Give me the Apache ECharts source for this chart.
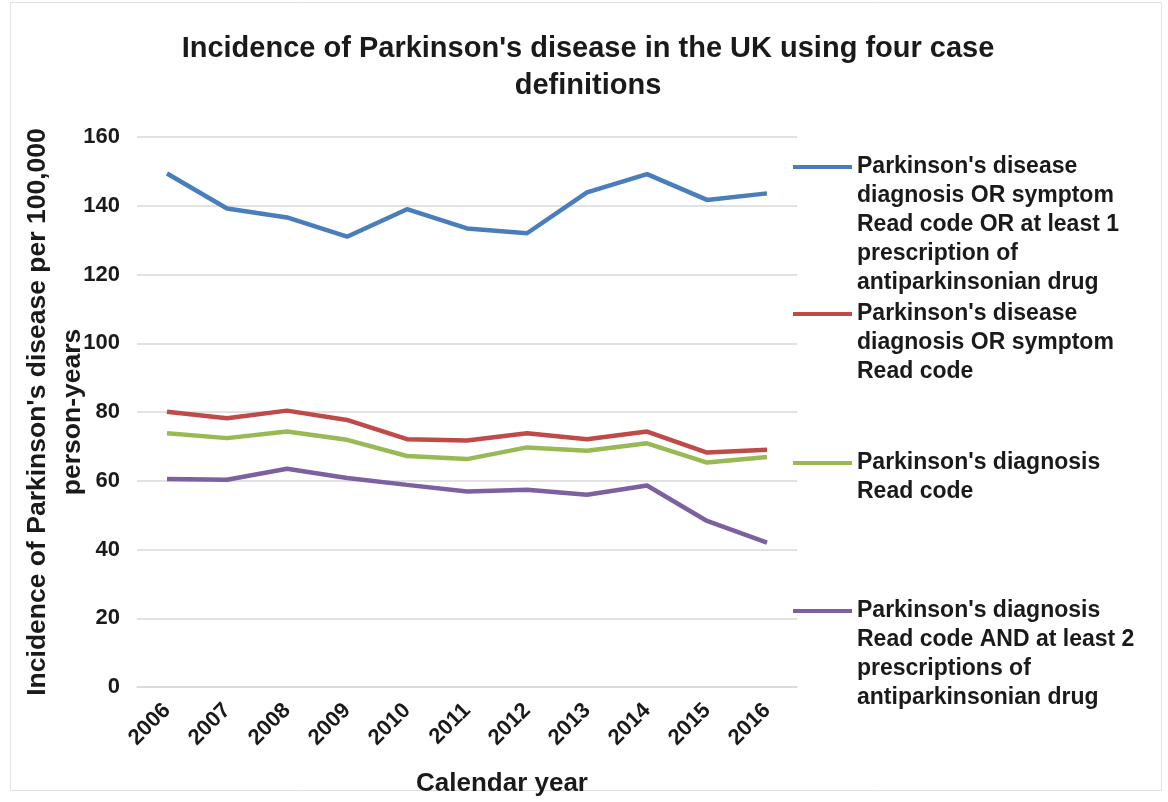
<!DOCTYPE html>
<html>
<head>
<meta charset="utf-8">
<script src="https://cdn.jsdelivr.net/npm/echarts@6/dist/echarts.min.js"></script>
<style>
  html, body { margin: 0; padding: 0; background: #ffffff; }
  #chart { width: 1168px; height: 802px; }
</style>
</head>
<body>
<div id="chart"></div>
<script>
// Calendar years on the x axis
const years = ['2006', '2007', '2008', '2009', '2010', '2011', '2012', '2013', '2014', '2015', '2016'];

// Incidence per 100,000 person-years for each case definition
const diagOrSymptomOrRx = [149.4, 139.2, 136.6, 131.0, 139.0, 133.4, 132.0, 143.9, 149.2, 141.7, 143.6];
const diagOrSymptom     = [80.1, 78.2, 80.4, 77.7, 72.1, 71.7, 73.8, 72.1, 74.3, 68.2, 69.0];
const diagnosisOnly     = [73.8, 72.4, 74.3, 71.9, 67.2, 66.3, 69.7, 68.7, 70.9, 65.3, 66.9];
const diagAnd2Rx        = [60.5, 60.3, 63.5, 60.8, 58.8, 56.9, 57.4, 55.9, 58.6, 48.3, 42.0];

// Series names, as shown in the legend (one entry per line of text)
const seriesNames = [
  ["Parkinson's disease", 'diagnosis OR symptom', 'Read code OR at least 1', 'prescription of', 'antiparkinsonian drug'],
  ["Parkinson's disease", 'diagnosis OR symptom', 'Read code'],
  ["Parkinson's diagnosis", 'Read code'],
  ["Parkinson's diagnosis", 'Read code AND at least 2', 'prescriptions of', 'antiparkinsonian drug']
];
const seriesValues = [diagOrSymptomOrRx, diagOrSymptom, diagnosisOnly, diagAnd2Rx];
const seriesColors = ['#4a7ebb', '#be4b48', '#98b954', '#7d60a0'];

// Y axis ticks
const yMin = 0, yMax = 160, yStep = 20;

const FONT = '"Liberation Sans", Arial, sans-serif';
const TEXT = '#1a1a1a';

// Legend: one block per series. Legend text is centred on its icon, so
// blank lines are put before the name to bring its first line level with the icon.
const legendLineHeight = 29;
const legendIconCenters = [166, 313, 462, 610];
const legends = seriesNames.map((lines, i) => {
  const n = lines.length;
  const boxH = (2 * n - 1) * legendLineHeight;
  return {
    left: 793,
    top: legendIconCenters[i] - boxH / 2 + 1,
    orient: 'vertical',
    padding: 0,
    icon: 'rect',
    itemWidth: 59,
    itemHeight: 4,
    selectedMode: false,
    data: [lines.join('\n')],
    formatter: (name) => '\n'.repeat(n - 1) + name,
    textStyle: {
      fontFamily: FONT, fontWeight: 'bold', fontSize: 23,
      color: TEXT, lineHeight: legendLineHeight
    }
  };
});

const chart = echarts.init(document.getElementById('chart'), null, { renderer: 'canvas' });

chart.setOption({
  backgroundColor: '#ffffff',
  animation: false,
  title: {
    text: "Incidence of Parkinson's disease in the UK using four case\ndefinitions",
    left: 588,
    textAlign: 'center',
    top: 30,
    padding: 0,
    textStyle: {
      fontFamily: FONT, fontWeight: 'bold', fontSize: 29,
      color: TEXT, lineHeight: 37
    }
  },
  legend: legends,
  grid: { left: 137, right: 371, top: 137, bottom: 115 },
  xAxis: {
    type: 'category',
    data: years,
    boundaryGap: true,
    name: 'Calendar year',
    nameLocation: 'middle',
    nameGap: 84,
    nameMoveOverlap: false,
    nameTextStyle: {
      fontFamily: FONT, fontWeight: 'bold', fontSize: 26, color: TEXT,
      padding: [0, 0, 0, 70]
    },
    axisLine: { show: true, lineStyle: { color: '#d9d9d9', width: 1.5 } },
    axisTick: { show: false },
    axisLabel: {
      interval: 0, rotate: 45, margin: 20,
      fontFamily: FONT, fontWeight: 'bold', fontSize: 22, color: TEXT
    }
  },
  yAxis: {
    type: 'value',
    min: yMin, max: yMax, interval: yStep,
    name: "Incidence of Parkinson's disease per 100,000\nperson-years",
    nameLocation: 'middle',
    nameGap: 47,
    nameMoveOverlap: false,
    nameTextStyle: {
      fontFamily: FONT, fontWeight: 'bold', fontSize: 26.5, color: TEXT, lineHeight: 35
    },
    axisLine: { show: false },
    axisTick: { show: false },
    splitLine: { lineStyle: { color: '#d9d9d9', width: 1.5 } },
    axisLabel: {
      margin: 17,
      fontFamily: FONT, fontWeight: 'bold', fontSize: 22, color: TEXT
    }
  },
  series: seriesNames.map((lines, i) => ({
    name: lines.join('\n'),
    type: 'line',
    data: seriesValues[i],
    color: seriesColors[i],
    showSymbol: false,
    symbol: 'none',
    lineStyle: { width: 4.5, color: seriesColors[i] },
    itemStyle: { color: seriesColors[i] }
  })),
  graphic: [{
    type: 'rect',
    shape: { x: 10.5, y: 2.5, width: 1151, height: 788 },
    style: { fill: 'none', stroke: '#e2e2e2', lineWidth: 1 },
    silent: true
  }]
});
</script>
</body>
</html>
